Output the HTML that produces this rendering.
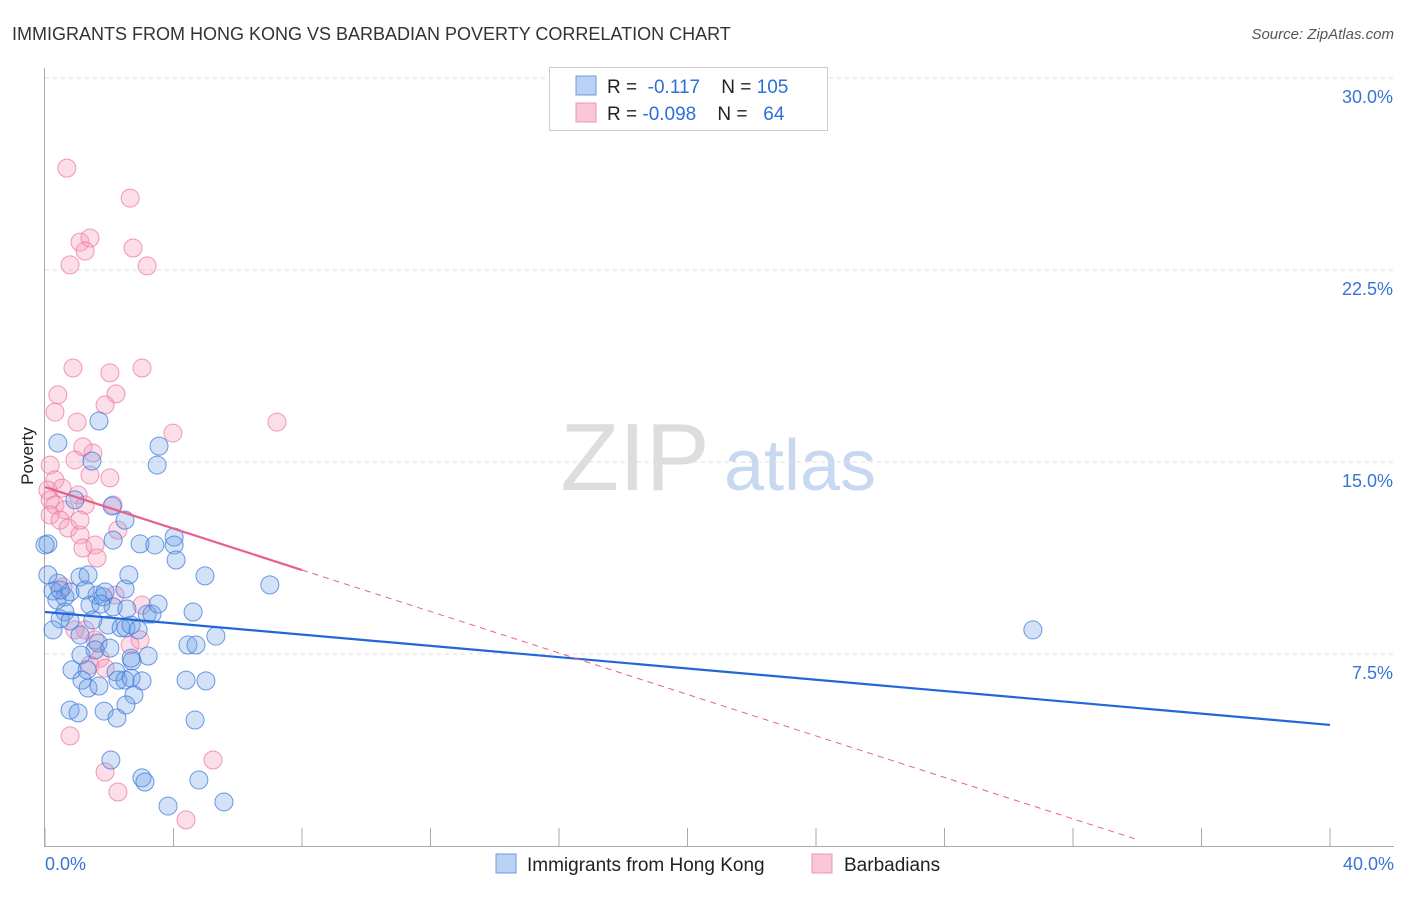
<!DOCTYPE html>
<html><head><meta charset="utf-8"><style>
body{margin:0;background:#fff;font-family:"Liberation Sans",sans-serif;}
svg text{font-family:"Liberation Sans",sans-serif;}
</style></head><body>
<svg id="chart" width="1406" height="892" viewBox="0 0 1406 892" xmlns="http://www.w3.org/2000/svg">
<text x="12" y="40" font-size="18" fill="#333">IMMIGRANTS FROM HONG KONG VS BARBADIAN POVERTY CORRELATION CHART</text>
<text x="1394" y="39" font-size="15" fill="#555" font-style="italic" text-anchor="end">Source: ZipAtlas.com</text>
<g><text x="635" y="490" font-size="96" fill="#ddd" font-family="Liberation Serif" text-anchor="middle">ZIP</text><text x="800" y="490" font-size="72" fill="#c7d8f0" text-anchor="middle">atlas</text></g>
<g id="grid"></g><g id="axes"></g><g id="pts"></g><g id="trends"></g>
<text transform="translate(33,456) rotate(-90)" font-size="17" fill="#222" text-anchor="middle">Poverty</text>
<g>
<rect x="549.5" y="67.5" width="278" height="63" fill="#fff" stroke="#ccc"/>
<rect x="576" y="76" width="20" height="19" fill="#b9d1f3" stroke="#6d9ae0"/>
<rect x="576" y="103" width="20" height="19" fill="#f9c6d6" stroke="#ef95b2"/>
<text x="607" y="93" font-size="19" fill="#222">R = <tspan fill="#2d6fd8">&#160;-0.117</tspan>&#160;&#160;&#160;&#160;N = <tspan fill="#2d6fd8">105</tspan></text>
<text x="607" y="120" font-size="19" fill="#222">R = <tspan fill="#2d6fd8">-0.098</tspan>&#160;&#160;&#160;&#160;N = <tspan fill="#2d6fd8">&#160;&#160;64</tspan></text>
</g>
<g>
<rect x="496" y="854" width="20" height="19" fill="#b9d1f3" stroke="#6d9ae0"/>
<text x="527" y="871" font-size="19" fill="#222">Immigrants from Hong Kong</text>
<rect x="812" y="854" width="20" height="19" fill="#f9c6d6" stroke="#ef95b2"/>
<text x="844" y="871" font-size="19" fill="#222">Barbadians</text>
</g>
</svg>
<script>
const xTickLabels=["0.0%","40.0%"];
const yTicks=[7.5,15,22.5,30];
const yTickLabels=["7.5%","15.0%","22.5%","30.0%"];
const blueX=[0.4,1.68,3.55,3.49,1.46,0.93,2.09,2.49,2.12,2.96,3.42,4.02,4.02,4.08,0.09,0.4,0.25,0.62,0.37,0.78,1.09,1.34,1.62,1.4,1.81,1.87,2.12,2.49,2.61,2.55,3.18,3.33,3.52,4.61,4.98,7.0,30.75,0.62,0.47,0.78,1.09,1.49,1.65,1.56,1.96,2.02,2.37,2.52,2.68,2.9,3.21,2.71,2.68,4.45,4.7,5.32,1.12,0.84,1.31,1.15,1.34,1.68,2.21,2.27,2.49,2.68,3.02,2.77,4.39,5.01,0.78,1.03,1.84,2.24,2.52,4.67,2.05,3.02,3.11,3.83,4.79,5.57,0.25,0,0.09,0.47,1.25,1.74];
const blueY=[15.74,16.6,15.62,14.88,15.04,13.52,13.28,12.73,11.95,11.8,11.76,12.07,11.76,11.17,11.8,10.27,9.96,9.73,9.61,9.92,10.51,10.59,9.8,9.41,9.73,9.92,9.34,10.04,10.59,9.26,9.06,9.06,9.45,9.14,10.55,10.2,8.44,9.14,8.87,8.79,8.24,8.83,7.93,7.66,8.63,7.73,8.52,8.52,8.63,8.44,7.42,7.23,7.34,7.85,7.85,8.2,7.46,6.88,6.88,6.48,6.17,6.25,6.8,6.48,6.48,6.56,6.45,5.9,6.48,6.45,5.31,5.2,5.27,5.0,5.51,4.92,3.36,2.66,2.5,1.56,2.58,1.72,8.44,11.76,10.59,10.0,10.0,9.45];
const pinkX=[0.68,2.65,1.09,1.4,1.25,2.74,0.78,3.18,0.87,2.02,3.02,0.4,2.21,1.87,0.31,1.0,7.22,3.98,1.18,1.49,0.93,0.16,0.31,0.09,0.53,2.02,1.4,1.03,0.16,0.31,0.62,1.25,2.12,0.16,0.47,0.72,1.09,1.18,1.56,1.62,2.27,2.18,3.02,0.56,1.25,1.56,2.65,1.71,1.4,1.87,0.78,1.87,2.27,5.23,4.39,1.09,0.93,2.96];
const pinkY=[26.48,25.31,23.59,23.75,23.24,23.36,22.7,22.66,18.67,18.48,18.67,17.62,17.66,17.23,16.95,16.56,16.56,16.13,15.59,15.35,15.08,14.88,14.3,13.9,13.98,14.38,14.49,13.71,13.52,13.32,13.13,13.32,13.32,12.93,12.73,12.42,12.15,11.64,11.76,11.25,12.34,9.8,9.41,10.12,8.44,8.05,7.85,7.34,7.07,6.95,4.3,2.89,2.11,3.36,1.02,12.73,8.44,8.05];
const blueTrend=[9.14,4.73];
const pinkTrend=[14.02,-0.405];
const NS="http://www.w3.org/2000/svg";
const X=v=>45+v*32.125, Y=v=>846-v*25.6;
function mk(p,t,a){const e=document.createElementNS(NS,t);for(const k in a)e.setAttribute(k,a[k]);p.appendChild(e);return e;}
const grid=document.getElementById('grid'),axes=document.getElementById('axes'),pts=document.getElementById('pts'),tr=document.getElementById('trends');
yTicks.forEach((t,i)=>{
 const l=mk(grid,'line',{x1:45,x2:1394,y1:Y(t),y2:Y(t),stroke:'#ddd','stroke-dasharray':'4,4'});
 
 
 const tx=mk(axes,'text',{x:1393,y:Y(t)+25,'font-size':18,fill:'#3a73d6','text-anchor':'end'});tx.textContent=yTickLabels[i];
 
 
});
const ya=mk(axes,'line',{x1:44.5,x2:44.5,y1:68,y2:846,stroke:'#aaa'});


const xa=mk(axes,'line',{x1:44,x2:1394,y1:846.5,y2:846.5,stroke:'#aaa'});


for(let i=0;i<=10;i++){const t=mk(axes,'line',{x1:X(i*4),x2:X(i*4),y1:828,y2:846,stroke:'#aaa'});
 
 }
[[0,'start',45],[40,'end',1394]].forEach((d,i)=>{const t=mk(axes,'text',{x:d[2],y:870,'font-size':18,fill:'#3a73d6','text-anchor':d[1]});t.textContent=xTickLabels[i];
 
 });
pinkX.forEach((x,i)=>{const c=mk(pts,'circle',{cx:X(x),cy:Y(pinkY[i]),r:9,fill:'rgba(246,160,190,0.35)',stroke:'rgba(236,120,160,0.75)','stroke-width':1});
 
 });
blueX.forEach((x,i)=>{const c=mk(pts,'circle',{cx:X(x),cy:Y(blueY[i]),r:9,fill:'rgba(110,160,230,0.3)',stroke:'rgba(60,120,220,0.75)','stroke-width':1});
 
 });
const bl=mk(tr,'line',{x1:X(0),y1:Y(blueTrend[0]),x2:X(40),y2:Y(blueTrend[1]),stroke:'#2266d8','stroke-width':2.2});


const pf=x=>pinkTrend[0]+pinkTrend[1]*x;
const ps=mk(tr,'line',{x1:X(0),y1:Y(pf(0)),x2:X(8),y2:Y(pf(8)),stroke:'#e8608a','stroke-width':2.2});


const pd=mk(tr,'line',{x1:X(8),y1:Y(pf(8)),x2:X(34),y2:Y(pf(34)),stroke:'#e8608a','stroke-width':1,'stroke-dasharray':'6,5'});


</script>
</body></html>
